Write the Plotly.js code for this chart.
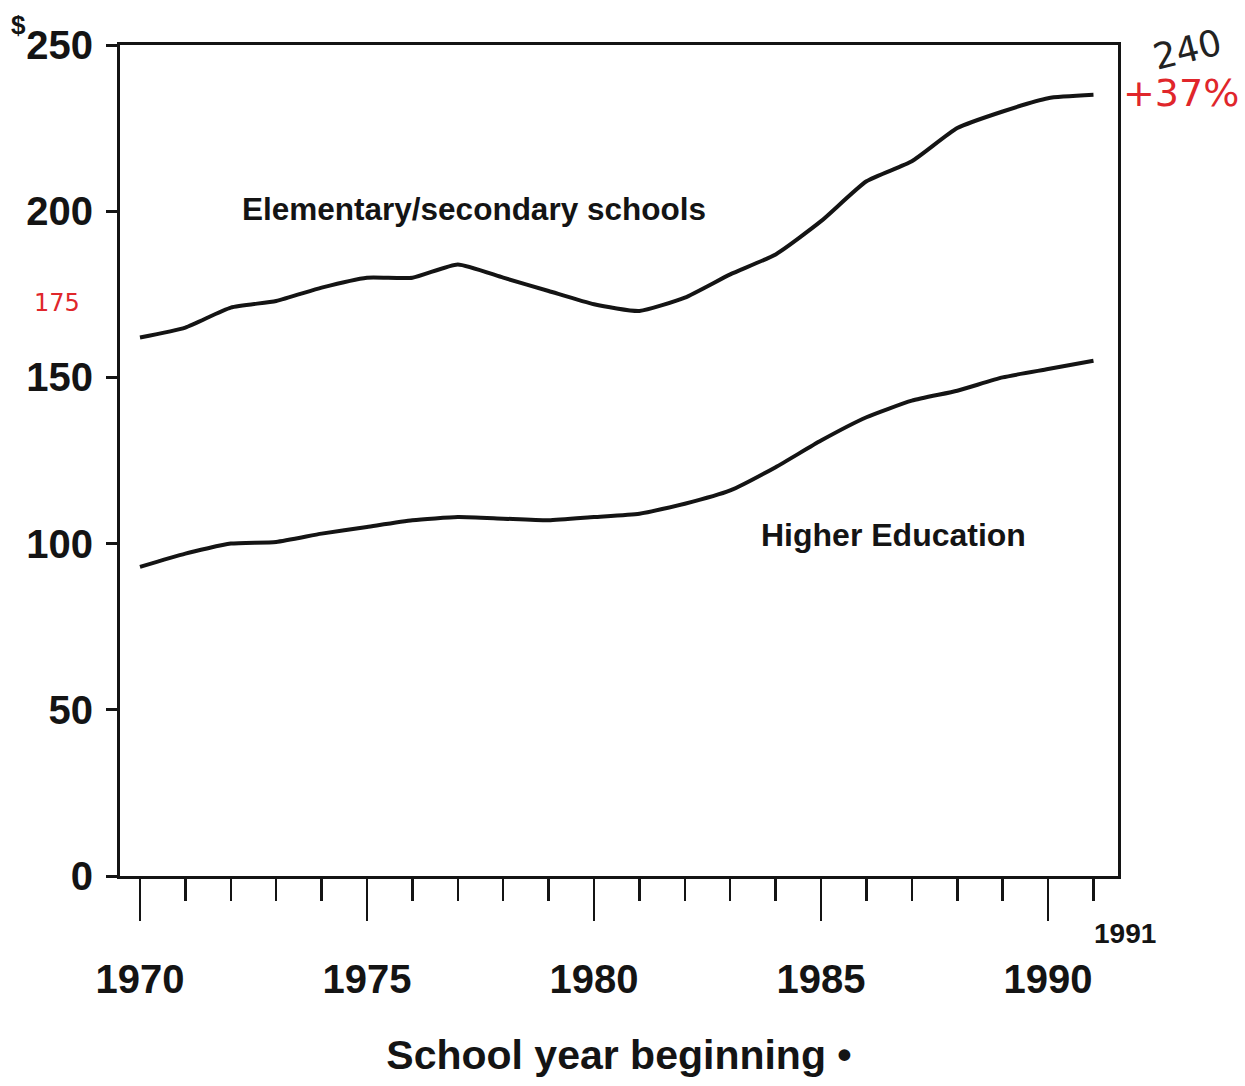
<!DOCTYPE html>
<html>
<head>
<meta charset="utf-8">
<script src="https://cdn.plot.ly/plotly-3.0.1.min.js"></script>
<style>
  html, body { margin: 0; padding: 0; background: #fff; }
  #chart { width: 1245px; height: 1086px; }
</style>
</head>
<body>
<div id="chart"></div>
<script>
// ---- Data ----
const years = [1970, 1971, 1972, 1973, 1974, 1975, 1976, 1977, 1978, 1979, 1980,
               1981, 1982, 1983, 1984, 1985, 1986, 1987, 1988, 1989, 1990, 1991];
const elemSecondary = [162, 165, 171, 173, 177, 180, 180, 184, 180, 176, 172,
                       170, 174, 181, 187, 197, 209, 215, 225, 230, 234, 235];
const higherEducation = [93, 97, 100, 100.5, 103, 105, 107, 108, 107.5, 107, 108,
                         109, 112, 116, 123, 131, 138, 143, 146, 150, 152.5, 155];
const xTickVals = [1970, 1975, 1980, 1985, 1990];
const xTickText = ['1970', '1975', '1980', '1985', '1990'];
const yTickVals = [0, 50, 100, 150, 200, 250];
const yTickText = ['0', '50', '100', '150', '200', '250'];
const seriesNames = ['Elementary/secondary schools', 'Higher Education'];
const xTitle = 'School year beginning •';
const lastYearLabel = '1991';

const INK = '#141414';
const boldFont = (size) => ({ family: 'Liberation Sans, Arial, sans-serif', size: size, color: INK, weight: 'bold' });
const handFont = (size, color) => ({ family: 'DejaVu Sans, sans-serif', size: size, color: color, weight: 'normal' });

const lineStyle = { color: INK, width: 4, shape: 'spline', smoothing: 0.5 };

const traces = [
  { x: years, y: elemSecondary, name: seriesNames[0], type: 'scatter', mode: 'lines', line: lineStyle, hoverinfo: 'x+y' },
  { x: years, y: higherEducation, name: seriesNames[1], type: 'scatter', mode: 'lines', line: lineStyle, hoverinfo: 'x+y' }
];

const layout = {
  width: 1245,
  height: 1086,
  paper_bgcolor: '#ffffff',
  plot_bgcolor: '#ffffff',
  showlegend: false,
  margin: { l: 120, r: 127, t: 45, b: 210, pad: 0 },
  xaxis: {
    range: [1969.56, 1991.54],
    showgrid: false,
    zeroline: false,
    showline: true,
    mirror: true,
    linecolor: INK,
    linewidth: 3,
    ticks: 'outside',
    ticklen: 42,
    tickwidth: 2.5,
    tickcolor: INK,
    tickvals: xTickVals,
    ticktext: xTickText,
    tickfont: boldFont(40),
    ticklabelstandoff: 24,
    minor: { dtick: 1, tick0: 1970, ticks: 'outside', ticklen: 22, tickwidth: 2.5, tickcolor: INK, showgrid: false },
    title: { text: xTitle, font: boldFont(41), standoff: 41 }
  },
  yaxis: {
    range: [0, 250],
    showgrid: false,
    zeroline: false,
    showline: true,
    mirror: true,
    linecolor: INK,
    linewidth: 3,
    ticks: 'outside',
    ticklen: 11,
    tickwidth: 3,
    tickcolor: INK,
    tickvals: yTickVals,
    ticktext: yTickText,
    tickfont: boldFont(40),
    ticklabelstandoff: 5
  },
  annotations: [
    { x: 1977.36, y: 200.8, xref: 'x', yref: 'y', text: seriesNames[0], showarrow: false, font: boldFont(31.5),
      xanchor: 'center', yanchor: 'middle' },
    { x: 1986.6, y: 102.5, xref: 'x', yref: 'y', text: seriesNames[1], showarrow: false, font: boldFont(32),
      xanchor: 'center', yanchor: 'middle' },
    { x: 1.0075, y: -0.0686, xref: 'paper', yref: 'paper', text: lastYearLabel, showarrow: false, font: boldFont(28),
      xanchor: 'center', yanchor: 'middle' },
    { x: -0.102, y: 1.024, xref: 'paper', yref: 'paper', text: '$', showarrow: false, font: boldFont(26),
      xanchor: 'center', yanchor: 'middle' },
    // handwritten notes on the scanned page
    { x: 1.070, y: 0.994, xref: 'paper', yref: 'paper', text: '240', showarrow: false, textangle: -14,
      font: handFont(36, '#222222'), xanchor: 'center', yanchor: 'middle' },
    { x: 1.063, y: 0.942, xref: 'paper', yref: 'paper', text: '+37%', showarrow: false,
      font: handFont(38, '#e0262b'), xanchor: 'center', yanchor: 'middle' },
    { x: -0.063, y: 0.69, xref: 'paper', yref: 'paper', text: '175', showarrow: false,
      font: handFont(24, '#e0262b'), xanchor: 'center', yanchor: 'middle' }
  ]
};

Plotly.newPlot('chart', traces, layout, { displayModeBar: false, staticPlot: true });
</script>
</body>
</html>
